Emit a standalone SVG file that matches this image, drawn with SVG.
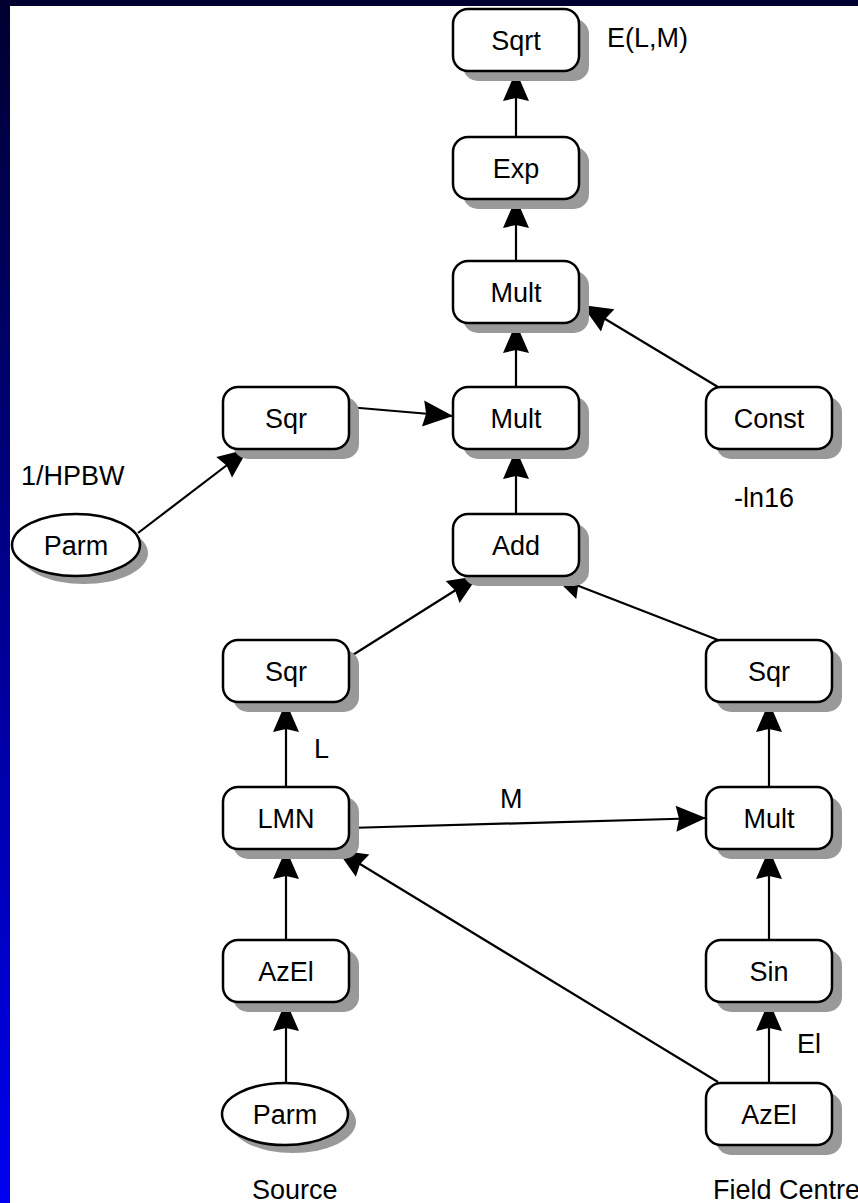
<svg xmlns="http://www.w3.org/2000/svg" width="858" height="1203" viewBox="0 0 858 1203">
<defs>
<linearGradient id="bg" x1="0" y1="0" x2="0" y2="1">
<stop offset="0" stop-color="#000030"/>
<stop offset="1" stop-color="#0000f0"/>
</linearGradient>
<marker id="ah" markerUnits="userSpaceOnUse" markerWidth="32" markerHeight="28" refX="30" refY="13" orient="auto" viewBox="0 0 32 28" overflow="visible">
<path d="M0,0 L30,13 L0,26 L3,13 z" fill="#000"/>
</marker>
</defs>
<style>
.box{fill:#fff;stroke:#000;stroke-width:2.5}
.sh{fill:#999;stroke:none}
.t{font-family:"Liberation Sans",Arial,sans-serif;font-size:27px;fill:#000}
.c{text-anchor:middle}
.e{stroke:#000;stroke-width:2.2;fill:none;marker-end:url(#ah)}
</style>
<rect x="0" y="0" width="858" height="1203" fill="url(#bg)"/>
<rect x="10" y="6" width="848" height="1197" fill="#fff"/>

<g id="connectors">
<line class="e" x1="516" y1="137" x2="516" y2="71"/>
<line class="e" x1="516" y1="261" x2="516" y2="198"/>
<line class="e" x1="516" y1="387" x2="516" y2="323"/>
<line class="e" x1="718" y1="387" x2="582" y2="305"/>
<line class="e" x1="348" y1="407" x2="453" y2="416"/>
<line class="e" x1="138" y1="533" x2="248" y2="449"/>
<line class="e" x1="516" y1="514" x2="516" y2="449"/>
<line class="e" x1="348" y1="658" x2="478" y2="576"/>
<line class="e" x1="718" y1="640" x2="553" y2="576"/>
<line class="e" x1="769" y1="787" x2="769" y2="702"/>
<line class="e" x1="286" y1="787" x2="286" y2="702"/>
<line class="e" x1="348" y1="828" x2="706" y2="818"/>
<line class="e" x1="286" y1="940" x2="286" y2="849"/>
<line class="e" x1="718" y1="1082" x2="337" y2="850"/>
<line class="e" x1="769" y1="940" x2="769" y2="849"/>
<line class="e" x1="769" y1="1083" x2="769" y2="1001"/>
<line class="e" x1="286" y1="1083" x2="286" y2="1001"/>
</g>

<g id="n-sqrt"><rect class="sh" x="463" y="19" width="126" height="62" rx="15"/><rect class="box" x="453" y="9" width="126" height="62" rx="15"/><text class="t c" x="516" y="50">Sqrt</text></g>
<g id="n-exp"><rect class="sh" x="463" y="147" width="126" height="62" rx="15"/><rect class="box" x="453" y="137" width="126" height="62" rx="15"/><text class="t c" x="516" y="178">Exp</text></g>
<g id="n-mult1"><rect class="sh" x="463" y="271" width="126" height="62" rx="15"/><rect class="box" x="453" y="261" width="126" height="62" rx="15"/><text class="t c" x="516" y="302">Mult</text></g>
<g id="n-sqr1"><rect class="sh" x="233" y="397" width="126" height="62" rx="15"/><rect class="box" x="223" y="387" width="126" height="62" rx="15"/><text class="t c" x="286" y="428">Sqr</text></g>
<g id="n-mult2"><rect class="sh" x="463" y="397" width="126" height="62" rx="15"/><rect class="box" x="453" y="387" width="126" height="62" rx="15"/><text class="t c" x="516" y="428">Mult</text></g>
<g id="n-const"><rect class="sh" x="716" y="397" width="126" height="62" rx="15"/><rect class="box" x="706" y="387" width="126" height="62" rx="15"/><text class="t c" x="769" y="428">Const</text></g>
<g id="n-parm1"><ellipse class="sh" cx="84" cy="553" rx="64" ry="31"/><ellipse class="box" cx="76" cy="545" rx="64" ry="31"/><text class="t c" x="76" y="555">Parm</text></g>
<g id="n-add"><rect class="sh" x="463" y="524" width="126" height="62" rx="15"/><rect class="box" x="453" y="514" width="126" height="62" rx="15"/><text class="t c" x="516" y="555">Add</text></g>
<g id="n-sqr2"><rect class="sh" x="233" y="650" width="126" height="62" rx="15"/><rect class="box" x="223" y="640" width="126" height="62" rx="15"/><text class="t c" x="286" y="681">Sqr</text></g>
<g id="n-sqr3"><rect class="sh" x="716" y="650" width="126" height="62" rx="15"/><rect class="box" x="706" y="640" width="126" height="62" rx="15"/><text class="t c" x="769" y="681">Sqr</text></g>
<g id="n-lmn"><rect class="sh" x="233" y="797" width="126" height="62" rx="15"/><rect class="box" x="223" y="787" width="126" height="62" rx="15"/><text class="t c" x="286" y="828">LMN</text></g>
<g id="n-mult3"><rect class="sh" x="716" y="797" width="126" height="62" rx="15"/><rect class="box" x="706" y="787" width="126" height="62" rx="15"/><text class="t c" x="769" y="828">Mult</text></g>
<g id="n-azel1"><rect class="sh" x="233" y="950" width="126" height="62" rx="15"/><rect class="box" x="223" y="940" width="126" height="62" rx="15"/><text class="t c" x="286" y="981">AzEl</text></g>
<g id="n-sin"><rect class="sh" x="716" y="950" width="126" height="62" rx="15"/><rect class="box" x="706" y="940" width="126" height="62" rx="15"/><text class="t c" x="769" y="981">Sin</text></g>
<g id="n-parm2"><ellipse class="sh" cx="293" cy="1122" rx="63" ry="31"/><ellipse class="box" cx="285" cy="1114" rx="63" ry="31"/><text class="t c" x="285" y="1124">Parm</text></g>
<g id="n-azel2"><rect class="sh" x="716" y="1093" width="126" height="62" rx="15"/><rect class="box" x="706" y="1083" width="126" height="62" rx="15"/><text class="t c" x="769" y="1124">AzEl</text></g>

<g id="labels">
<text class="t" x="607" y="47">E(L,M)</text>
<text class="t" x="21" y="485">1/HPBW</text>
<text class="t" x="734" y="507">-ln16</text>
<text class="t" x="314" y="758">L</text>
<text class="t" x="500" y="808">M</text>
<text class="t" x="797" y="1053">El</text>
<text class="t" x="252" y="1199">Source</text>
<text class="t" x="713" y="1199">Field Centre</text>
</g>
</svg>
